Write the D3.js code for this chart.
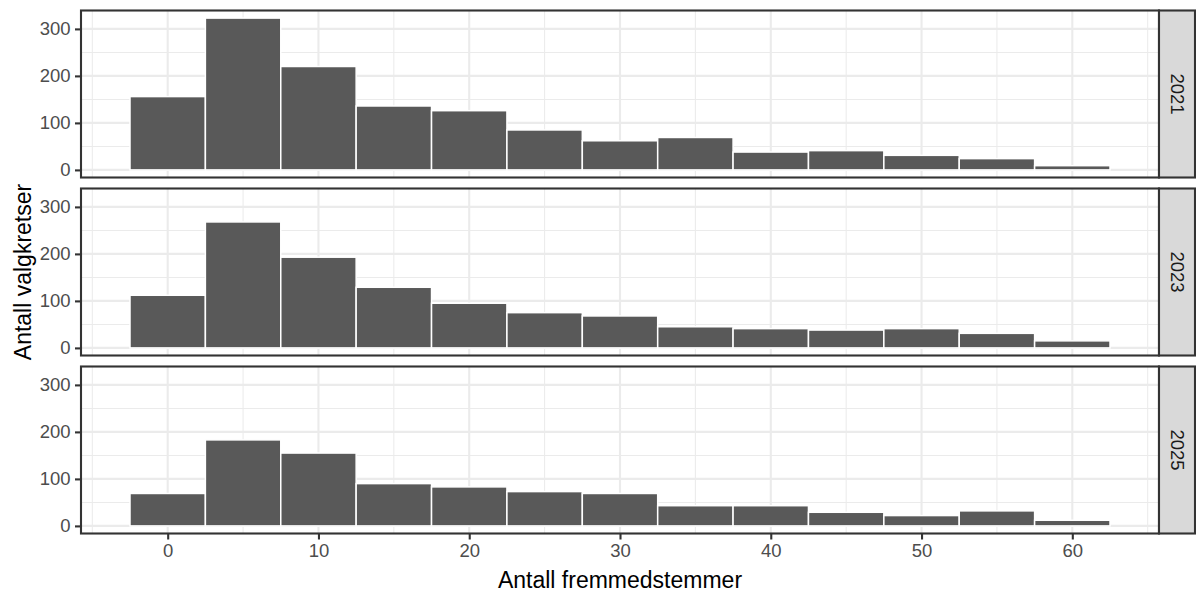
<!DOCTYPE html>
<html>
<head>
<meta charset="utf-8">
<script src="https://cdn.jsdelivr.net/npm/d3@7"></script>
<style>
  html, body { margin: 0; padding: 0; background: #fff; }
  svg { display: block; font-family: "Liberation Sans", Arial, sans-serif; }
</style>
</head>
<body>
<svg id="chart" width="1196" height="594"></svg>
<script>
// ---- data ----
const binCenters = [0, 5, 10, 15, 20, 25, 30, 35, 40, 45, 50, 55, 60];
const binWidth = 5;
const years = ["2021", "2023", "2025"];
const counts2021 = [156, 323, 220, 136, 126, 85, 62, 69, 38, 41, 31, 24, 9];
const counts2023 = [112, 268, 193, 129, 95, 75, 68, 45, 41, 38, 41, 31, 15];
const counts2025 = [69, 183, 155, 90, 83, 73, 69, 43, 43, 29, 22, 32, 12];
const xTicks = [0, 10, 20, 30, 40, 50, 60];
const xMinor = [-5, 5, 15, 25, 35, 45, 55, 65];
const yTicks = [0, 100, 200, 300];
const yMinor = [50, 150, 250];
const xTitle = "Antall fremmedstemmer";
const yTitle = "Antall valgkretser";

const seriesByYear = [counts2021, counts2023, counts2025];

// ---- layout ----
const svg = d3.select("#chart");
const panelLeft = 81, panelRight = 1159, stripW = 36;
const panelTop0 = 10.5, panelH = 167, panelGap = 11;
const lw = 2.1, grid = "#EBEBEB", border = "#333333";

const xMin = binCenters[0] - binWidth / 2, xMax = binCenters[binCenters.length - 1] + binWidth / 2;
const xPad = (xMax - xMin) * 0.05;
const x = d3.scaleLinear().domain([xMin - xPad, xMax + xPad]).range([panelLeft, panelRight]);
const yMaxData = d3.max(seriesByYear.flat());

svg.append("defs").selectAll("clipPath").data(years).join("clipPath")
  .attr("id", (d, i) => "clip" + i)
  .append("rect")
  .attr("x", panelLeft).attr("width", panelRight - panelLeft)
  .attr("y", (d, i) => panelTop0 + i * (panelH + panelGap)).attr("height", panelH);

years.forEach((yr, i) => {
  const top = panelTop0 + i * (panelH + panelGap);
  const bottom = top + panelH;
  const y = d3.scaleLinear().domain([-0.05 * yMaxData, 1.05 * yMaxData]).range([bottom, top]);
  const g = svg.append("g");
  const inner = g.append("g").attr("clip-path", `url(#clip${i})`);

  inner.append("rect").attr("x", panelLeft).attr("y", top).attr("width", panelRight - panelLeft).attr("height", panelH).attr("fill", "#fff");

  // minor grid
  inner.selectAll(".xm").data(xMinor).join("line")
    .attr("x1", d => x(d)).attr("x2", d => x(d)).attr("y1", top).attr("y2", bottom)
    .attr("stroke", grid).attr("stroke-width", lw / 2);
  inner.selectAll(".ym").data(yMinor).join("line")
    .attr("y1", d => y(d)).attr("y2", d => y(d)).attr("x1", panelLeft).attr("x2", panelRight)
    .attr("stroke", grid).attr("stroke-width", lw / 2);
  // major grid
  inner.selectAll(".xM").data(xTicks).join("line")
    .attr("x1", d => x(d)).attr("x2", d => x(d)).attr("y1", top).attr("y2", bottom)
    .attr("stroke", grid).attr("stroke-width", lw);
  inner.selectAll(".yM").data(yTicks).join("line")
    .attr("y1", d => y(d)).attr("y2", d => y(d)).attr("x1", panelLeft).attr("x2", panelRight)
    .attr("stroke", grid).attr("stroke-width", lw);

  // bars
  const vals = seriesByYear[i];
  inner.selectAll(".bar").data(binCenters.map((c, k) => ({ c, v: vals[k] }))).join("rect")
    .attr("x", d => x(d.c - binWidth / 2))
    .attr("width", d => x(d.c + binWidth / 2) - x(d.c - binWidth / 2))
    .attr("y", d => y(d.v))
    .attr("height", d => y(0) - y(d.v))
    .attr("fill", "#595959")
    .attr("stroke", "#ffffff").attr("stroke-width", 1.5);

  // panel border
  g.append("rect").attr("x", panelLeft).attr("y", top).attr("width", panelRight - panelLeft).attr("height", panelH)
    .attr("fill", "none").attr("stroke", border).attr("stroke-width", lw);

  // strip
  g.append("rect").attr("x", panelRight).attr("y", top).attr("width", stripW).attr("height", panelH)
    .attr("fill", "#D9D9D9").attr("stroke", border).attr("stroke-width", lw);
  g.append("text")
    .attr("transform", `translate(${panelRight + stripW / 2},${top + panelH / 2}) rotate(90)`)
    .attr("text-anchor", "middle").attr("dominant-baseline", "central")
    .attr("fill", "#1A1A1A").attr("font-size", 18.5).text(yr);

  // y axis
  const yAxis = d3.axisLeft(y).tickValues(yTicks).tickSize(6).tickPadding(4.5).tickFormat(d3.format("d"));
  const ya = g.append("g").attr("transform", `translate(${panelLeft},0)`).call(yAxis);
  ya.select(".domain").remove();
  ya.selectAll(".tick line").attr("stroke", border).attr("stroke-width", lw);
  ya.selectAll(".tick text").attr("fill", "#4D4D4D").attr("font-size", 18.5)
    .attr("font-family", "'Liberation Sans', Arial, sans-serif");

  if (i === years.length - 1) {
    const xAxis = d3.axisBottom(x).tickValues(xTicks).tickSize(6).tickPadding(4.5);
    const xa = g.append("g").attr("transform", `translate(0,${bottom})`).call(xAxis);
    xa.select(".domain").remove();
    xa.selectAll(".tick line").attr("stroke", border).attr("stroke-width", lw);
    xa.selectAll(".tick text").attr("fill", "#4D4D4D").attr("font-size", 18.5)
      .attr("font-family", "'Liberation Sans', Arial, sans-serif");
  }
});

// axis titles
svg.append("text")
  .attr("x", (panelLeft + panelRight) / 2).attr("y", 588)
  .attr("text-anchor", "middle").attr("fill", "#000").attr("font-size", 23)
  .text(xTitle);
const panelsBottom = panelTop0 + 3 * panelH + 2 * panelGap;
svg.append("text")
  .attr("transform", `translate(31,${(panelTop0 + panelsBottom) / 2}) rotate(-90)`)
  .attr("text-anchor", "middle").attr("fill", "#000").attr("font-size", 23)
  .text(yTitle);
</script>
</body>
</html>
